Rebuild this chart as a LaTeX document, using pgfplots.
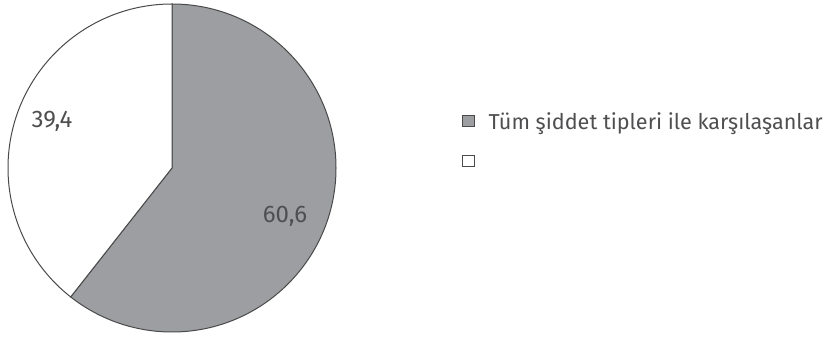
\documentclass[border=0pt]{standalone}
\usepackage{pgfplots}
\usepackage{pgfplotstable}
\pgfplotsset{compat=1.18}
\usepackage{fontspec}
\setmainfont{Fira Sans}
\definecolor{piegray}{HTML}{9D9EA2}
\definecolor{edgegray}{HTML}{4A4A4A}
\definecolor{txtgray}{HTML}{4F4F51}
\pgfplotstableread{
label value
Karsilasanlar 60.6
Diger 39.4
}\pietable
\begin{document}
\begin{tikzpicture}
\pgfplotstablegetelem{0}{value}\of\pietable \let\va\pgfplotsretval
\pgfplotstablegetelem{1}{value}\of\pietable \let\vb\pgfplotsretval
\pgfmathsetmacro{\angA}{90-3.6*\va}
\begin{axis}[
  x=1pt, y=1pt, xmin=0, xmax=832, ymin=0, ymax=337,
  hide axis, scale only axis, clip=false,
  legend style={draw=none, fill=none, at={(axis cs:462,227)}, anchor=north west,
    font=\fontsize{21.6}{25}\selectfont\color{txtgray}, inner xsep=0pt, inner ysep=0pt,
    row sep=17pt, cells={anchor=west}, nodes={inner xsep=0pt}},
  legend image code/.code={\draw[#1, line width=0.9pt] (0.5pt,-5.5pt) rectangle (12pt,5.5pt);},
]
\path (axis cs:0,0) rectangle (axis cs:832,337);
\addlegendimage{fill=piegray, draw=edgegray}
\addlegendentry{\hspace{14pt}Tüm şiddet tipleri ile karşılaşanlar}
\addlegendimage{fill=white, draw=edgegray}
\addlegendentry{\strut}
\draw[edgegray, line width=1pt, fill=piegray] (axis cs:172,169) -- (axis cs:172,333) arc[start angle=90, end angle=\angA, radius=164pt] -- cycle;
\draw[edgegray, line width=1pt, fill=white] (axis cs:172,169) -- (axis cs:172,333) arc[start angle=90, end angle=\angA+360, radius=164pt] -- cycle;
\node[txtgray, font=\fontsize{24}{28}\selectfont] at (axis cs:52,215.5) {39,4};
\node[txtgray, font=\fontsize{24}{28}\selectfont] at (axis cs:285,121) {60,6};
\end{axis}
\end{tikzpicture}
\end{document}
